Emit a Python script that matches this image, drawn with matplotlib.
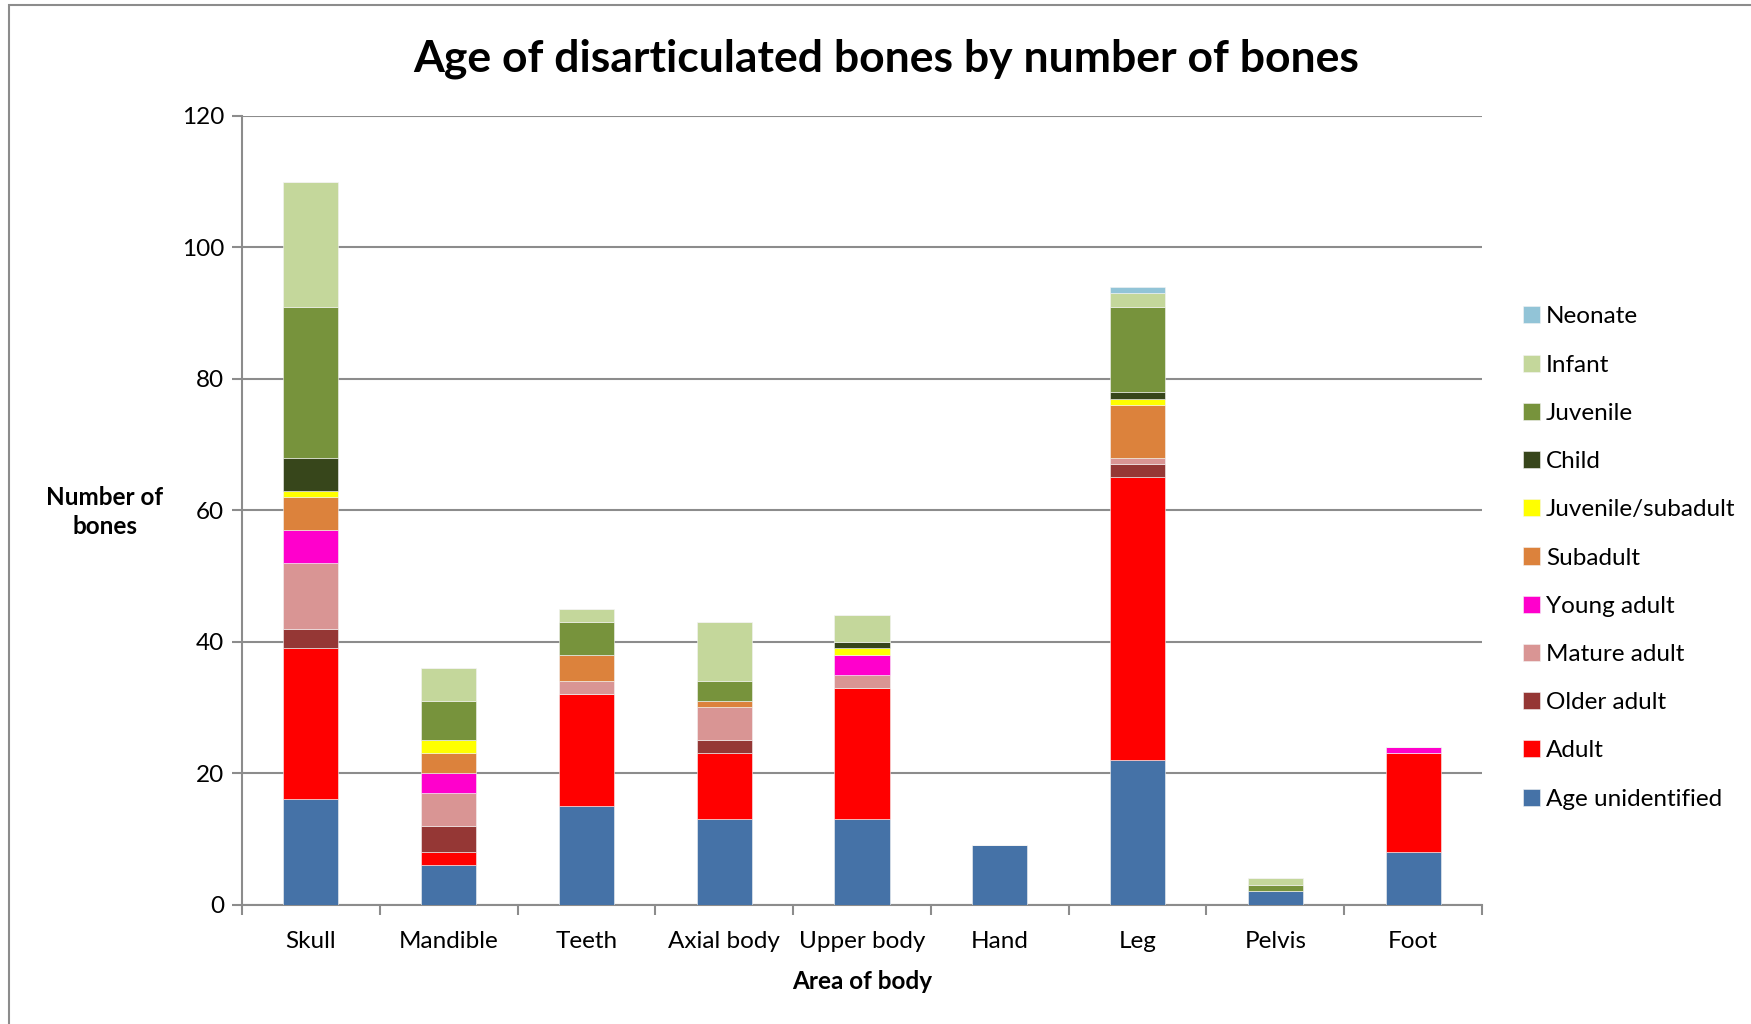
import numpy as np
import matplotlib
matplotlib.use("Agg")
import matplotlib.pyplot as plt
from matplotlib.patches import Rectangle

plt.rcParams['font.family'] = ['Lato', 'DejaVu Sans']

# categories and stacked series (bottom to top)
areas = ['Skull', 'Mandible', 'Teeth', 'Axial body', 'Upper body', 'Hand', 'Leg', 'Pelvis', 'Foot']

age_unidentified = [16, 6, 15, 13, 13, 9, 22, 2, 8]
adult            = [23, 2, 17, 10, 20, 0, 43, 0, 15]
older_adult      = [3, 4, 0, 2, 0, 0, 2, 0, 0]
mature_adult     = [10, 5, 2, 5, 2, 0, 1, 0, 0]
young_adult      = [5, 3, 0, 0, 3, 0, 0, 0, 1]
subadult         = [5, 3, 4, 1, 0, 0, 8, 0, 0]
juv_subadult     = [1, 2, 0, 0, 1, 0, 1, 0, 0]
child            = [5, 0, 0, 0, 1, 0, 1, 0, 0]
juvenile         = [23, 6, 5, 3, 0, 0, 13, 1, 0]
infant           = [19, 5, 2, 9, 4, 0, 2, 1, 0]
neonate          = [0, 0, 0, 0, 0, 0, 1, 0, 0]

series = [
    ('Age unidentified', age_unidentified, '#4572A7'),
    ('Adult', adult, '#FF0000'),
    ('Older adult', older_adult, '#953735'),
    ('Mature adult', mature_adult, '#D99594'),
    ('Young adult', young_adult, '#FF00CC'),
    ('Subadult', subadult, '#DC823C'),
    ('Juvenile/subadult', juv_subadult, '#FFFF00'),
    ('Child', child, '#37461B'),
    ('Juvenile', juvenile, '#77933C'),
    ('Infant', infant, '#C4D79B'),
    ('Neonate', neonate, '#92C4D7'),
]

fig = plt.figure(figsize=(17.51, 10.24), dpi=100)
ax = fig.add_axes([242 / 1751, 1 - 904.5 / 1024, (1482 - 242) / 1751, (904.5 - 116) / 1024])

x = np.arange(len(areas))
bottom = np.zeros(len(areas))
handles = []
for name, vals, color in series:
    vals = np.array(vals, dtype=float)
    b = ax.bar(x, vals, width=0.4, bottom=bottom, color=color,
               edgecolor='#f4f4f4', linewidth=0.4, label=name, zorder=3)
    handles.append(b)
    bottom += vals

ax.set_xlim(-0.5, len(areas) - 0.5)
ax.set_ylim(0, 120)
ax.set_yticks(np.arange(0, 121, 20))
ax.yaxis.grid(True, color='#8c8c8c', linewidth=1.5, zorder=0)
ax.set_axisbelow(True)

ax.set_xticks(x)
ax.set_xticklabels(areas, fontsize=17.5)
ax.set_xticks(np.arange(-0.5, len(areas), 1), minor=True)
ax.tick_params(axis='x', which='major', length=0, pad=19)
ax.tick_params(axis='x', which='minor', length=7, width=1.5, color='#8c8c8c', direction='out')
ax.tick_params(axis='y', length=7, width=1.5, color='#8c8c8c', labelsize=17.5, pad=6)

for s in ['top', 'right']:
    ax.spines[s].set_visible(False)
for s in ['left', 'bottom']:
    ax.spines[s].set_color('#8c8c8c')
    ax.spines[s].set_linewidth(1.5)

ax.set_xlabel('Area of body', fontsize=17.5, fontweight='bold', labelpad=13)
fig.text(105 / 1751, 1 - 512 / 1024, 'Number of\nbones', fontsize=17.5, fontweight='bold',
         ha='center', va='center', linespacing=1.35)

fig.text(886 / 1751, 1 - 59 / 1024, 'Age of disarticulated bones by number of bones',
         fontsize=32, fontweight='bold', ha='center', va='center')

leg = fig.legend(handles[::-1], [s[0] for s in series][::-1], loc='center left',
                 bbox_to_anchor=(1523 / 1751, 1 - 558 / 1024), frameon=False,
                 fontsize=17.5, handlelength=0.7, handleheight=0.7, handletextpad=0.25,
                 labelspacing=1.12, borderaxespad=0, borderpad=0)

# outer chart frame
fig.patches.append(Rectangle((9 / 1751, -0.02), 1.05, 1 - 5 / 1024 + 0.02, transform=fig.transFigure,
                             fill=False, edgecolor='#8c8c8c', linewidth=1.5))

fig.savefig('out.png', dpi=100)
